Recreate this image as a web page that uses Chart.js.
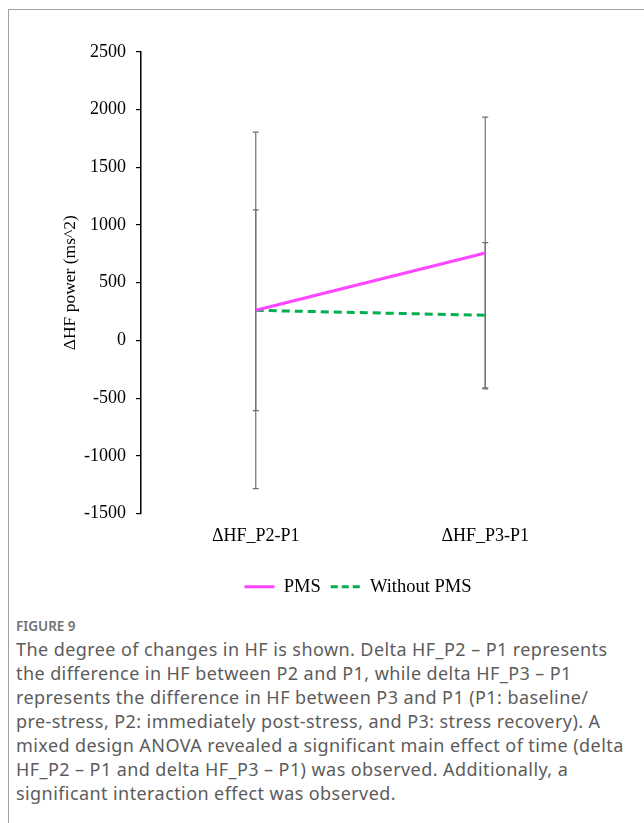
<!DOCTYPE html>
<html lang="en">
<head>
  <meta charset="UTF-8">
  <title>Figure 9</title>
  <script src="https://cdn.jsdelivr.net/npm/chart.js@4/dist/chart.umd.min.js"></script>
  <style>
    html, body { margin: 0; padding: 0; background: #fff; }
    body { width: 644px; height: 823px; position: relative; overflow: hidden; }
    #frame { position: absolute; left: 8px; top: 9px; right: -2px; bottom: -2px;
             border-left: 1.5px solid #a0a0a0; border-top: 1.5px solid #a0a0a0; }
    #chart-box { position: absolute; left: 0; top: 0; width: 644px; height: 610px; }
    #caption { position: absolute; left: 16px; top: 617px; width: 630px; white-space: nowrap;
               font-family: "Noto Sans", sans-serif; color: #5c5c5c; }
    #caption .fig { font-size: 13.5px; font-weight: 600; color: #727272; margin-bottom: 2px; }
    #caption .txt { font-size: 18px; line-height: 24px; letter-spacing: 0.42px; }
  </style>
</head>
<body>
  <div id="frame"></div>
  <div id="chart-box"><canvas id="chart-canvas"></canvas></div>
  <div id="caption">
    <div class="fig">FIGURE 9</div>
    <div class="txt">The degree of changes in HF is shown. Delta HF_P2 – P1 represents<br>the difference in HF between P2 and P1, while delta HF_P3 – P1<br>represents the difference in HF between P3 and P1 (P1: baseline/<br>pre-stress, P2: immediately post-stress, and P3: stress recovery). A<br>mixed design ANOVA revealed a significant main effect of time (delta<br>HF_P2 – P1 and delta HF_P3 – P1) was observed. Additionally, a<br>significant interaction effect was observed.</div>
  </div>
  <script>
    const categories = ['ΔHF_P2-P1', 'ΔHF_P3-P1'];
    const pmsValues = [261, 758];
    const pmsErrors = [1545, 1178];
    const noPmsValues = [261, 218];
    const noPmsErrors = [870, 630];
    const yTicks = [-1500, -1000, -500, 0, 500, 1000, 1500, 2000, 2500];

    const serif = '"Liberation Serif", "Times New Roman", serif';
    Chart.defaults.font.family = serif;
    Chart.defaults.color = '#000';

    // symmetric error bars, drawn under the lines
    const errorBars = {
      id: 'errorBars',
      afterLayout(chart) {
        // legend sits a bit right of the canvas centre in the original
        chart.legend.left += 58;
        chart.legend.right += 58;
      },
      beforeDatasetsDraw(chart) {
        const ctx = chart.ctx;
        const y = chart.scales.y;
        ctx.save();
        ctx.strokeStyle = '#707070';
        ctx.lineWidth = 1.2;
        chart.data.datasets.forEach((ds, i) => {
          const meta = chart.getDatasetMeta(i);
          meta.data.forEach((pt, j) => {
            const v = ds.data[j], e = ds.errors[j];
            const top = y.getPixelForValue(v + e);
            const bot = y.getPixelForValue(v - e);
            ctx.beginPath();
            ctx.moveTo(pt.x, top); ctx.lineTo(pt.x, bot);
            ctx.moveTo(pt.x - 3, top); ctx.lineTo(pt.x + 3, top);
            ctx.moveTo(pt.x - 3, bot); ctx.lineTo(pt.x + 3, bot);
            ctx.stroke();
          });
        });
        ctx.restore();
      }
    };

    new Chart(document.getElementById('chart-canvas'), {
      type: 'line',
      data: {
        labels: categories,
        datasets: [
          { label: 'PMS', data: pmsValues, errors: pmsErrors,
            borderColor: '#ff44ff', backgroundColor: '#ff44ff', borderWidth: 3,
            pointRadius: 0, tension: 0 },
          { label: 'Without PMS', data: noPmsValues, errors: noPmsErrors,
            borderColor: '#00b04f', backgroundColor: '#00b04f', borderWidth: 3,
            borderDash: [8, 5], pointRadius: 0, tension: 0 }
        ]
      },
      options: {
        responsive: true,
        maintainAspectRatio: false,
        animation: false,
        layout: { padding: { top: 52, right: 44, bottom: 4, left: 0 } },
        plugins: {
          tooltip: { enabled: false },
          legend: {
            position: 'bottom',
            labels: {
              usePointStyle: true,
              pointStyle: 'line',
              pointStyleWidth: 30,
              boxHeight: 18,
              padding: 10,
              color: '#000',
              font: { family: serif, size: 18.5 },
              // point-style items lose the dataset dash, so put it back
              generateLabels(chart) {
                return Chart.defaults.plugins.legend.labels.generateLabels(chart).map(item => {
                  const ds = chart.data.datasets[item.datasetIndex];
                  item.strokeStyle = ds.borderColor;
                  item.lineWidth = 3;
                  item.lineDash = ds.borderDash ? [7, 4] : [];
                  return item;
                });
              }
            }
          }
        },
        scales: {
          x: {
            offset: true,
            grid: { display: false, drawTicks: false },
            border: { display: false },
            ticks: { color: '#000', padding: 12, font: { family: serif, size: 18 } },
            afterFit(scale) { scale.height = 54; }
          },
          y: {
            min: yTicks[0],
            max: yTicks[yTicks.length - 1],
            grid: { drawOnChartArea: false, drawTicks: true, tickLength: 5, color: '#000', lineWidth: 1.2 },
            border: { display: true, color: '#000', width: 1.5 },
            ticks: {
              stepSize: 500,
              color: '#000',
              padding: 10,
              font: { family: serif, size: 18 },
              callback: v => yTicks.includes(v) ? String(v) : null
            },
            title: {
              display: true,
              text: 'ΔHF power (ms^2)',
              color: '#000',
              padding: { top: 60, bottom: 0 },
              font: { family: serif, size: 17.5 }
            },
            afterFit(scale) { scale.width = 141; }
          }
        }
      },
      plugins: [errorBars]
    });
  </script>
</body>
</html>
